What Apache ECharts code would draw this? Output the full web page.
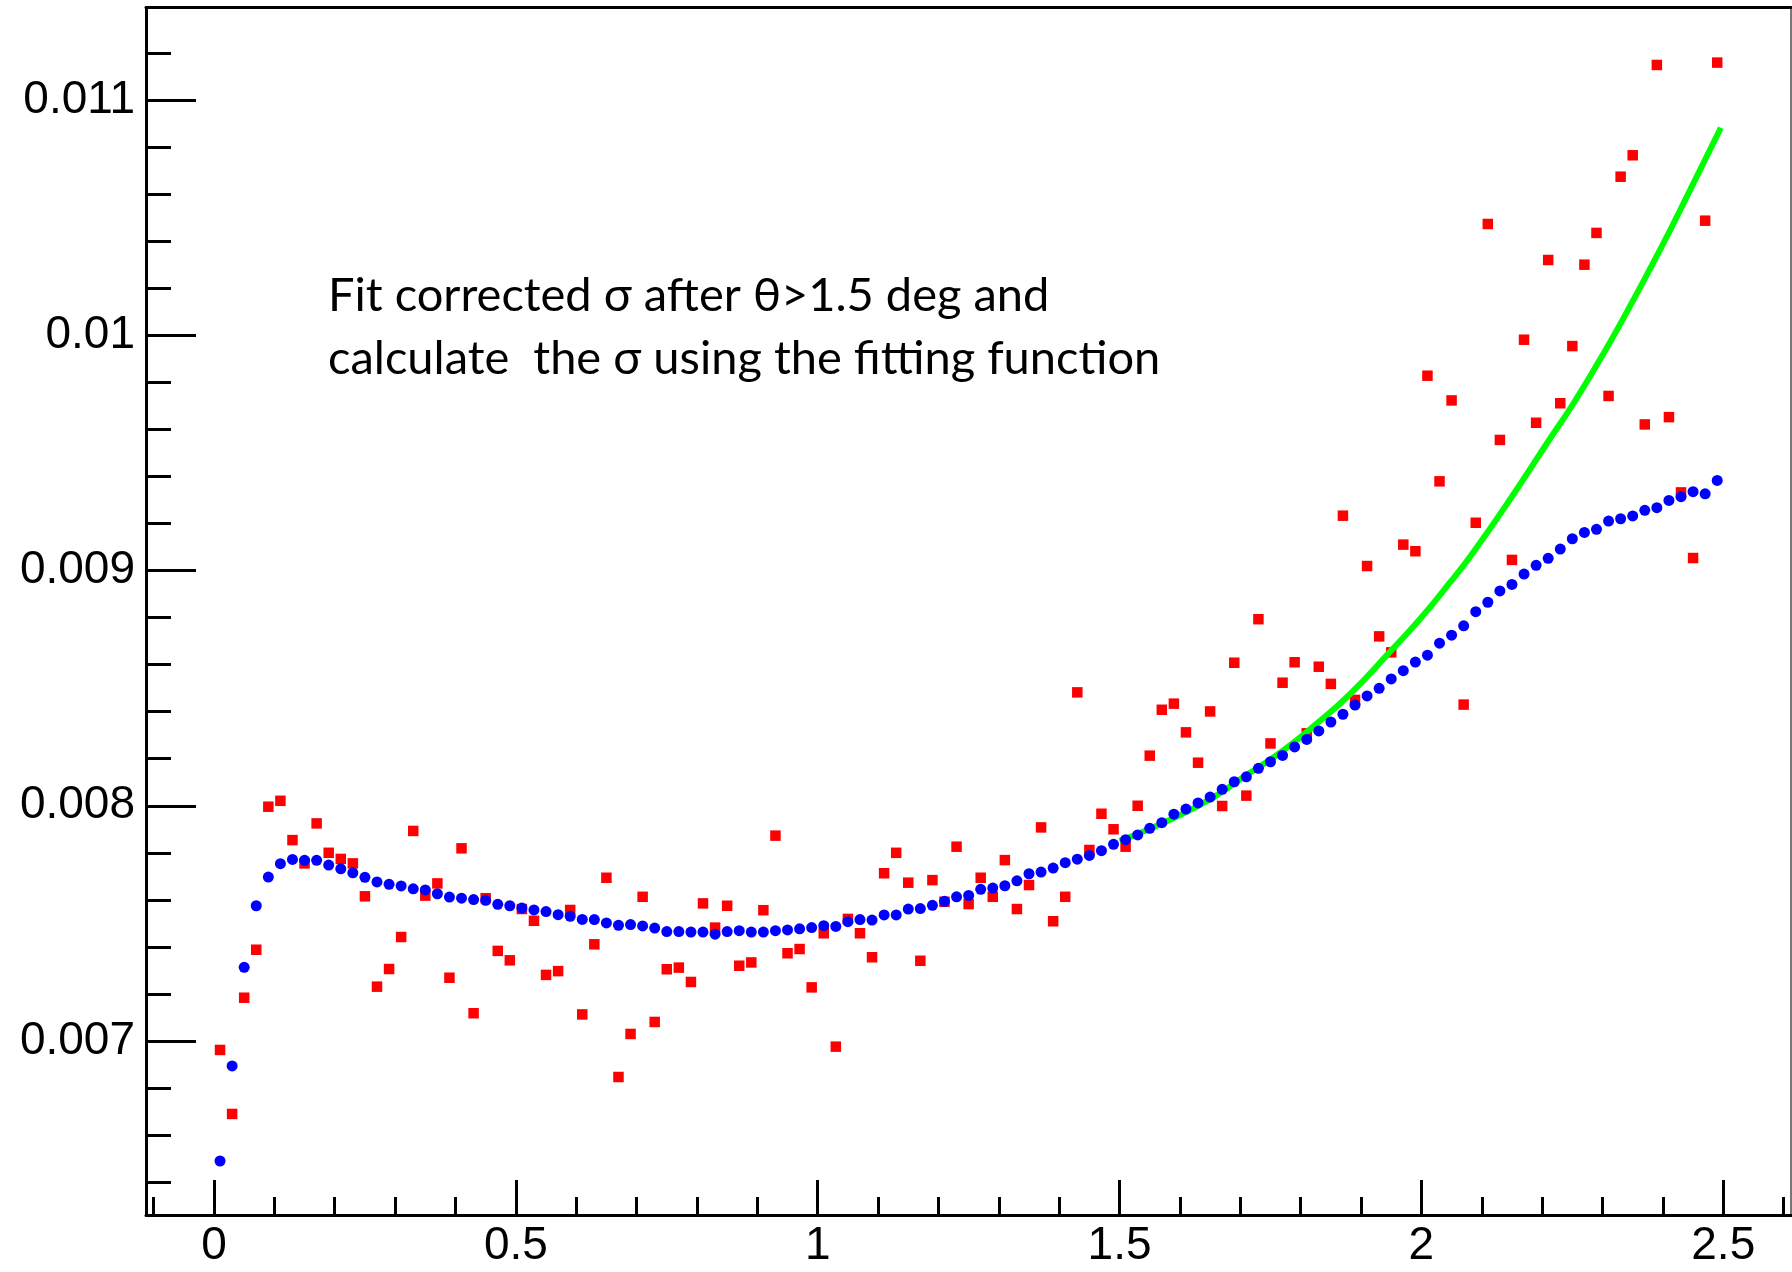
<!DOCTYPE html>
<html><head><meta charset="utf-8">
<script src="https://cdn.jsdelivr.net/npm/echarts@6/dist/echarts.min.js"></script>
<style>html,body{margin:0;padding:0;background:#fff}#c{width:1792px;height:1272px}</style>
</head><body><div id="c"></div>
<script>
// ---- data ----
const thetaBins = [0.01,0.03,0.05,0.07,0.09,0.11,0.13,0.15,0.17,0.19,0.21,0.23,0.25,0.27,0.29,0.31,0.33,0.35,0.37,0.39,
0.41,0.43,0.45,0.47,0.49,0.51,0.53,0.55,0.57,0.59,0.61,0.63,0.65,0.67,0.69,0.71,0.73,0.75,0.77,0.79,
0.81,0.83,0.85,0.87,0.89,0.91,0.93,0.95,0.97,0.99,1.01,1.03,1.05,1.07,1.09,1.11,1.13,1.15,1.17,1.19,
1.21,1.23,1.25,1.27,1.29,1.31,1.33,1.35,1.37,1.39,1.41,1.43,1.45,1.47,1.49,1.51,1.53,1.55,1.57,1.59,
1.61,1.63,1.65,1.67,1.69,1.71,1.73,1.75,1.77,1.79,1.81,1.83,1.85,1.87,1.89,1.91,1.93,1.95,1.97,1.99,
2.01,2.03,2.05,2.07,2.09,2.11,2.13,2.15,2.17,2.19,2.21,2.23,2.25,2.27,2.29,2.31,2.33,2.35,2.37,2.39,
2.41,2.43,2.45,2.47,2.49];
const sigmaCorrected = [0.006962,0.00669,0.007184,0.007388,0.007996,0.008021,0.007854,0.007755,0.007925,0.0078,
0.007774,0.007755,0.007615,0.007231,0.007306,0.007442,0.007893,0.007618,0.00767,0.007269,
0.007819,0.007118,0.007607,0.007383,0.007343,0.007561,0.007511,0.007281,0.007297,0.007557,
0.007113,0.007411,0.007694,0.006847,0.00703,0.007613,0.007081,0.007305,0.007312,0.007251,
0.007585,0.007482,0.007575,0.00732,0.007334,0.007556,0.007873,0.007373,0.007391,0.007228,
0.007458,0.006976,0.007519,0.007458,0.007356,0.007713,0.0078,0.007673,0.007341,0.007684,
0.007592,0.007826,0.007582,0.007694,0.007613,0.007769,0.007561,0.007663,0.007908,0.007509,
0.007613,0.008482,0.007812,0.007966,0.0079,0.007826,0.008,0.008213,0.008408,0.008434,
0.008312,0.008183,0.008401,0.007999,0.008608,0.008043,0.008793,0.008265,0.008523,0.00861,
0.008308,0.008591,0.008518,0.009233,0.00845,0.009019,0.00872,0.008652,0.00911,0.009082,
0.009828,0.009379,0.009723,0.00843,0.009203,0.010473,0.009555,0.009045,0.009981,0.009628,
0.01032,0.009711,0.009954,0.0103,0.010435,0.009742,0.010674,0.010765,0.009621,0.011149,
0.009652,0.009332,0.009053,0.010487,0.011159];
const sigmaCalculated = [0.00649,0.006894,0.007313,0.007575,0.007697,0.007754,0.007772,0.007768,0.007768,0.007748,
0.007732,0.007715,0.007696,0.007676,0.007666,0.007659,0.007647,0.007642,0.007626,0.007612,
0.007607,0.007601,0.007598,0.007581,0.007575,0.007565,0.007557,0.00755,0.007537,0.00753,
0.007517,0.007516,0.007502,0.007492,0.007495,0.007489,0.00748,0.007465,0.007465,0.007463,
0.007463,0.007454,0.007465,0.007469,0.007463,0.007463,0.007469,0.007472,0.007477,0.007482,
0.00749,0.007487,0.007507,0.007516,0.007514,0.007536,0.007536,0.007561,0.007563,0.007577,
0.007594,0.007613,0.007619,0.007645,0.00765,0.00766,0.007681,0.007711,0.007718,0.007735,
0.007758,0.007773,0.007789,0.007809,0.007836,0.007856,0.007876,0.007904,0.007928,0.007964,
0.007986,0.008012,0.008037,0.00807,0.008102,0.008123,0.008159,0.008187,0.008214,0.00825,
0.008282,0.008318,0.008356,0.008389,0.008428,0.008467,0.008499,0.008539,0.008574,0.008611,
0.00864,0.008691,0.008725,0.008765,0.008825,0.008865,0.008913,0.008941,0.008985,0.009022,
0.009052,0.009091,0.009135,0.009162,0.009175,0.00921,0.00922,0.009232,0.009256,0.009267,
0.009298,0.009314,0.009335,0.009326,0.009383];
const fitTheta = [1.50,1.628,1.716,1.771,1.827,1.882,1.947,1.997,2.047,2.086,2.152,2.208,2.252,2.296,2.329,2.395,2.445,2.496];
const fitSigma = [0.00785,0.007996,0.00814,0.008235,0.00835,0.008475,0.008652,0.008792,0.008948,0.009078,0.009322,0.009541,0.009711,0.009898,0.010046,0.010362,0.010617,0.010882];
const xMajorTicks = [0,0.5,1,1.5,2,2.5];
const xTickLabels = ['0','0.5','1','1.5','2','2.5'];
const xMinorTicks = [-0.1,0.1,0.2,0.3,0.4,0.6,0.7,0.8,0.9,1.1,1.2,1.3,1.4,1.6,1.7,1.8,1.9,2.1,2.2,2.3,2.4,2.6];
const yMajorTicks = [0.007,0.008,0.009,0.01,0.011];
const yTickLabels = ['0.007','0.008','0.009','0.01','0.011'];
const yMinorTicks = [0.0064,0.0066,0.0068,0.0072,0.0074,0.0076,0.0078,0.0082,0.0084,0.0086,0.0088,
0.0092,0.0094,0.0096,0.0098,0.0102,0.0104,0.0106,0.0108,0.0112];
const annotationLines = ['Fit corrected σ after θ>1.5 deg and', 'calculate  the σ using the fitting function'];

// ---- chart ----
const XMIN = -0.11264, XMAX = 2.6122, YMIN = 0.0062604, YMAX = 0.0113932;
const lbl = (ticks, labels) => v => { const i = ticks.findIndex(t => Math.abs(t - v) < 1e-9); return i >= 0 ? labels[i] : ''; };
const black = '#000';
const tickFont = {fontSize: 46, fontFamily: 'Liberation Sans', color: black};

const chart = echarts.init(document.getElementById('c'), null, {renderer: 'canvas'});
chart.setOption({
  animation: false,
  backgroundColor: '#fff',
  grid: {left: 146, top: 7.5, right: 1, bottom: 57, containLabel: false, outerBoundsMode: 'none'},
  xAxis: [
    {type: 'value', min: XMIN, max: XMAX, position: 'bottom',
     axisLine: {show: true, onZero: false, lineStyle: {color: black, width: 3}},
     axisTick: {show: true, inside: true, length: 35, lineStyle: {color: black, width: 3}, customValues: xMajorTicks},
     axisLabel: Object.assign({customValues: xMajorTicks, formatter: lbl(xMajorTicks, xTickLabels), margin: 8}, tickFont),
     splitLine: {show: false}},
    {type: 'value', min: XMIN, max: XMAX, position: 'bottom',
     axisLine: {show: false, onZero: false},
     axisTick: {show: true, inside: true, length: 18, lineStyle: {color: black, width: 3}, customValues: xMinorTicks},
     axisLabel: {show: false}, splitLine: {show: false}},
    {type: 'value', min: XMIN, max: XMAX, position: 'top',
     axisLine: {show: true, onZero: false, lineStyle: {color: black, width: 3}},
     axisTick: {show: false}, axisLabel: {show: false}, splitLine: {show: false}}
  ],
  yAxis: [
    {type: 'value', min: YMIN, max: YMAX, position: 'left',
     axisLine: {show: true, onZero: false, lineStyle: {color: black, width: 3}},
     axisTick: {show: true, inside: true, length: 50, lineStyle: {color: black, width: 3}, customValues: yMajorTicks},
     axisLabel: Object.assign({customValues: yMajorTicks, formatter: lbl(yMajorTicks, yTickLabels), margin: 11}, tickFont),
     splitLine: {show: false}},
    {type: 'value', min: YMIN, max: YMAX, position: 'left',
     axisLine: {show: false, onZero: false},
     axisTick: {show: true, inside: true, length: 25, lineStyle: {color: black, width: 3}, customValues: yMinorTicks},
     axisLabel: {show: false}, splitLine: {show: false}},
    {type: 'value', min: YMIN, max: YMAX, position: 'right',
     axisLine: {show: true, onZero: false, lineStyle: {color: '#777', width: 2}},
     axisTick: {show: false}, axisLabel: {show: false}, splitLine: {show: false}}
  ],
  series: [
    {type: 'scatter', xAxisIndex: 0, yAxisIndex: 0, symbol: 'rect', symbolSize: 10.5, z: 2,
     itemStyle: {color: '#ff0000', opacity: 1}, data: thetaBins.map((x, i) => [x, sigmaCorrected[i]])},
    {type: 'line', xAxisIndex: 0, yAxisIndex: 0, smooth: true, showSymbol: false, symbol: 'none', z: 3,
     lineStyle: {color: '#00ff00', width: 6, opacity: 1}, data: fitTheta.map((x, i) => [x, fitSigma[i]])},
    {type: 'scatter', xAxisIndex: 0, yAxisIndex: 0, symbol: 'circle', symbolSize: 11, z: 4,
     itemStyle: {color: '#0000ff', opacity: 1}, data: thetaBins.map((x, i) => [x, sigmaCalculated[i]])}
  ],
  graphic: annotationLines.map((t, i) => ({
    type: 'text', left: 328, top: 272 + i * 63, z: 10,
    style: {text: t, fontSize: 47, fontFamily: 'Lato', fill: black}
  }))
});
</script>
</body></html>
